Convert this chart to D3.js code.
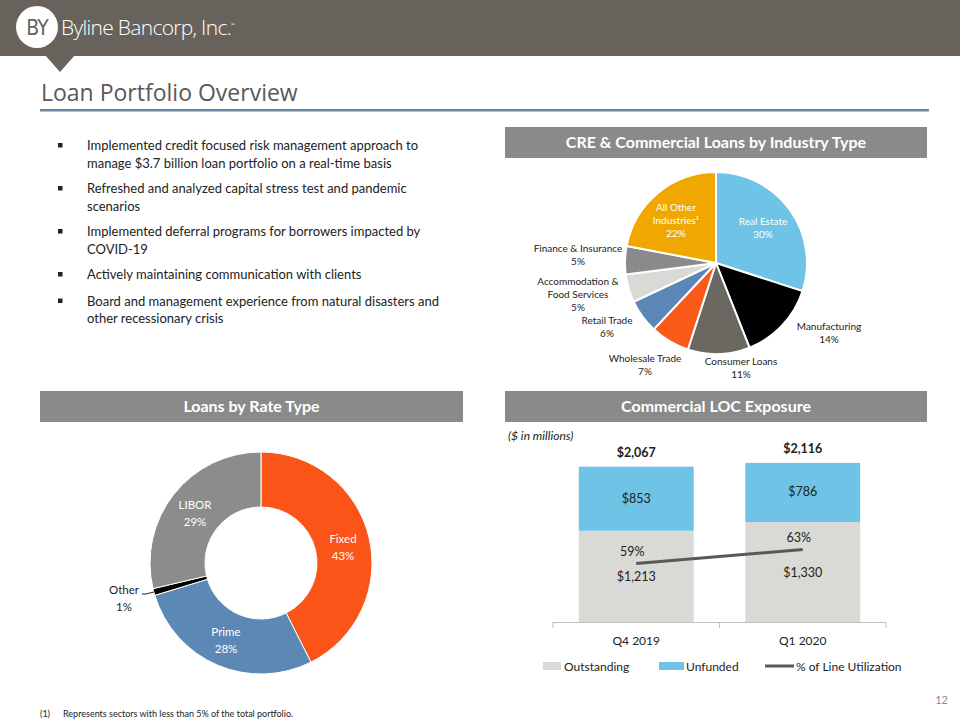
<!DOCTYPE html>
<html><head><meta charset="utf-8">
<script src="https://cdn.jsdelivr.net/npm/d3@7"></script>
<style>
html,body{margin:0;padding:0;background:#fff;}
svg{display:block;font-family:Lato,"Open Sans",sans-serif;}
</style></head>
<body>
<svg id="c" width="960" height="720"></svg>
<script>
// ---------- DATA ----------
const industryLabels = ["Real  Estate","Manufacturing","Consumer Loans","Wholesale Trade","Retail Trade","Accommodation & Food Services","Finance & Insurance","All Other Industries¹"];
const industryValues = [30,14,11,7,6,5,5,22];
const industryColors = ["#6ec3e6","#000000","#6b6862","#fb5a1a","#5b87b8","#d9d9d6","#8a8a8a","#f0a800"];

const rateLabels = ["Fixed","Prime","Other","LIBOR"];
const rateValues = [43,28,1,29];
const rateColors = ["#fb5419","#5b88b5","#000000","#8c8c8c"];

const locCategories = ["Q4 2019","Q1 2020"];
const outstanding = [1213,1330];
const unfunded = [853,786];
const totals = [2067,2116];
const utilization = [59,63];

const bullets = [
  ["Implemented credit focused risk management approach to","manage $3.7 billion loan portfolio on a real-time basis"],
  ["Refreshed and analyzed capital stress test and pandemic","scenarios"],
  ["Implemented deferral programs for borrowers impacted by","COVID-19"],
  ["Actively maintaining communication with clients"],
  ["Board and management experience from natural disasters and","other recessionary crisis"]
];

// ---------- SETUP ----------
const svg = d3.select("#c");

// header band
svg.append("rect").attr("x",0).attr("y",0).attr("width",960).attr("height",56).attr("fill","#67635c");
svg.append("path").attr("d","M45,55 L75,55 L60,72 Z").attr("fill","#67635c");
svg.append("circle").attr("cx",37).attr("cy",27).attr("r",21).attr("fill","#fff");
svg.append("text").attr("x",37).attr("y",35).attr("text-anchor","middle").attr("fill","#67635c")
  .attr("font-size",21).attr("font-family","'DejaVu Sans Condensed',sans-serif").attr("letter-spacing",-1).text("BY");
svg.append("text").attr("x",61).attr("y",35).attr("fill","#fff").attr("font-size",21)
  .attr("font-family","'Open Sans',sans-serif").attr("font-weight",300).attr("letter-spacing",-0.7).text("Byline Bancorp, Inc.");
svg.append("text").attr("x",231).attr("y",27).attr("fill","#fff").attr("font-size",5).text("™");

// title
svg.append("text").attr("x",41).attr("y",101).attr("fill","#595959").attr("font-size",23)
  .attr("font-family","'Open Sans',sans-serif").text("Loan Portfolio Overview");
svg.append("rect").attr("x",40).attr("y",109).attr("width",889).attr("height",2.5).attr("fill","#6a87a3");

// bullets
let by = 150;
bullets.forEach((b,i)=>{
  svg.append("rect").attr("x",58).attr("y",by-7).attr("width",4.5).attr("height",4.5).attr("fill","#222");
  b.forEach((line,j)=>{
    svg.append("text").attr("x",87).attr("y",by+j*17.5).attr("font-size",13).attr("fill","#222")
      .attr("font-family","Lato,sans-serif").text(line);
  });
  by += b.length===2 ? 43 : 26.5;
});

// section headers
function sectionHeader(x,y,w,h,txt){
  svg.append("rect").attr("x",x).attr("y",y).attr("width",w).attr("height",h).attr("fill","#8a8a8a");
  svg.append("text").attr("x",x+w/2).attr("y",y+h/2+5.5).attr("text-anchor","middle").attr("fill","#fff")
    .attr("font-weight","bold").attr("font-size",16).attr("font-family","Lato,sans-serif").text(txt);
}
sectionHeader(505,127,422,31,"CRE & Commercial Loans by Industry Type");
sectionHeader(40,391,423,31,"Loans by Rate Type");
sectionHeader(505,391,422,31,"Commercial LOC Exposure");

// ---------- PIE ----------
const pieG = svg.append("g").attr("transform","translate(716,263)");
const pie = d3.pie().sort(null).value(d=>d)(industryValues);
const arcP = d3.arc().innerRadius(0).outerRadius(91);
pieG.selectAll("path").data(pie).join("path").attr("d",arcP)
  .attr("fill",(d,i)=>industryColors[i]).attr("stroke","#fff").attr("stroke-width",2);

const pieLabelPos = [
  {x:763,y:225,lines:["Real  Estate","30%"],c:"#fff"},
  {x:829,y:330,lines:["Manufacturing","14%"],c:"#222"},
  {x:741,y:365,lines:["Consumer Loans","11%"],c:"#222"},
  {x:645,y:362,lines:["Wholesale Trade","7%"],c:"#222"},
  {x:607,y:324,lines:["Retail Trade","6%"],c:"#222"},
  {x:578,y:285,lines:["Accommodation &","Food Services","5%"],c:"#222"},
  {x:578,y:252,lines:["Finance & Insurance","5%"],c:"#222"},
  {x:676,y:211,lines:["All Other","Industries¹","22%"],c:"#fff"}
];
pieLabelPos.forEach((p,i)=>{
  const t = svg.append("text").attr("text-anchor","middle").attr("font-size",10).attr("fill",p.c)
    .attr("font-family","Lato,sans-serif");
  p.lines.forEach((l,j)=>{
    const txt = j===p.lines.length-1 ? industryValues[i]+"%" : l;
    t.append("tspan").attr("x",p.x).attr("y",p.y+j*13).text(txt);
  });
});

// ---------- DONUT ----------
const donG = svg.append("g").attr("transform","translate(261,563)");
const dpie = d3.pie().sort(null).value(d=>d)(rateValues);
const arcD = d3.arc().innerRadius(56).outerRadius(111);
donG.selectAll("path").data(dpie).join("path").attr("d",arcD)
  .attr("fill",(d,i)=>rateColors[i]).attr("stroke","#fff").attr("stroke-width",1);

const donLabels = [
  {x:343,y:543,c:"#fff"},
  {x:226,y:636,c:"#fff"},
  {x:124,y:594,c:"#222"},
  {x:195,y:509,c:"#fff"}
];
donLabels.forEach((p,i)=>{
  const t = svg.append("text").attr("text-anchor","middle").attr("font-size",11.5).attr("fill",p.c)
    .attr("font-family","Lato,sans-serif");
  t.append("tspan").attr("x",p.x).attr("y",p.y).text(rateLabels[i]);
  t.append("tspan").attr("x",p.x).attr("y",p.y+16.5).text(rateValues[i]+"%");
});
// leader for Other
const midA = (dpie[2].startAngle+dpie[2].endAngle)/2 - Math.PI/2;
svg.append("path").attr("d",`M142,594 L146,594 L${261+Math.cos(midA)*111},${563+Math.sin(midA)*111}`)
  .attr("fill","none").attr("stroke","#222").attr("stroke-width",1);

// ---------- BAR CHART ----------
svg.append("text").attr("x",508).attr("y",440).attr("font-size",12).attr("font-style","italic")
  .attr("fill","#222").attr("font-family","Lato,sans-serif").text("($ in millions)");

const x = d3.scaleBand().domain(locCategories).range([553,886]).paddingInner(0.31).paddingOuter(0.155);
const y = d3.scaleLinear().domain([0,2500]).range([622,434]);
const y2 = d3.scaleLinear().domain([0,100]).range([770,420]);

const barG = svg.append("g");
locCategories.forEach((c,i)=>{
  barG.append("rect").attr("x",x(c)).attr("width",x.bandwidth())
    .attr("y",y(outstanding[i])).attr("height",y(0)-y(outstanding[i])).attr("fill","#d9d9d6");
  barG.append("rect").attr("x",x(c)).attr("width",x.bandwidth())
    .attr("y",y(outstanding[i]+unfunded[i])).attr("height",y(outstanding[i])-y(outstanding[i]+unfunded[i])).attr("fill","#6ec3e6");
});
// axis
const ax = svg.append("g").attr("transform","translate(0,622)")
  .call(d3.axisBottom(x).tickSize(0).tickPadding(14));
ax.select(".domain").attr("stroke","#bfbfbf").attr("d","M553,0.5H886");
ax.selectAll("text").attr("font-size",12).attr("fill","#222").attr("font-family","Lato,sans-serif");
[553,719.5,886].forEach(tx=>svg.append("line").attr("x1",tx).attr("x2",tx).attr("y1",622).attr("y2",628).attr("stroke","#bfbfbf"));

// line
const line = d3.line().x((d,i)=>x(locCategories[i])+x.bandwidth()/2).y(d=>y2(d));
svg.append("path").attr("d",line(utilization)).attr("fill","none").attr("stroke","#595959").attr("stroke-width",3);

const lbl = (xx,yy,t,bold)=>svg.append("text").attr("x",xx).attr("y",yy).attr("text-anchor","middle")
  .attr("font-size",12.5).attr("font-weight",bold?"bold":"normal").attr("fill","#222")
  .attr("font-family","Lato,sans-serif").text(t);
locCategories.forEach((c,i)=>{
  const cx = x(c)+x.bandwidth()/2;
  lbl(cx, y(totals[i])-10, "$"+d3.format(",")(totals[i]), true);
  lbl(cx, (y(outstanding[i])+y(outstanding[i]+unfunded[i]))/2+4, "$"+d3.format(",")(unfunded[i]));
  lbl(cx, y(outstanding[i]/2)+5, "$"+d3.format(",")(outstanding[i]));
  lbl(cx-4, y2(utilization[i])-8, utilization[i]+"%");
});

// legend
const lg = svg.append("g");
lg.append("rect").attr("x",543).attr("y",662).attr("width",18).attr("height",8).attr("fill","#d9d9d6");
lg.append("text").attr("x",564).attr("y",671).attr("font-size",12).attr("fill","#222").attr("font-family","Lato,sans-serif").text("Outstanding");
lg.append("rect").attr("x",659).attr("y",662).attr("width",25).attr("height",8).attr("fill","#6ec3e6");
lg.append("text").attr("x",686).attr("y",671).attr("font-size",12).attr("fill","#222").attr("font-family","Lato,sans-serif").text("Unfunded");
lg.append("line").attr("x1",765).attr("x2",794).attr("y1",666).attr("y2",666).attr("stroke","#595959").attr("stroke-width",3);
lg.append("text").attr("x",796).attr("y",671).attr("font-size",12).attr("fill","#222").attr("font-family","Lato,sans-serif").text("% of Line Utilization");

// footnote & page number
svg.append("text").attr("x",40).attr("y",717).attr("font-size",9).attr("fill","#222").attr("font-family","Lato,sans-serif").text("(1)");
svg.append("text").attr("x",63).attr("y",717).attr("font-size",9).attr("fill","#222").attr("font-family","Lato,sans-serif").text("Represents sectors with less than 5% of the total portfolio.");
svg.append("text").attr("x",948).attr("y",704).attr("text-anchor","end").attr("font-size",11).attr("fill","#8c8c8c").attr("font-family","Lato,sans-serif").text("12");
</script>
</body></html>
